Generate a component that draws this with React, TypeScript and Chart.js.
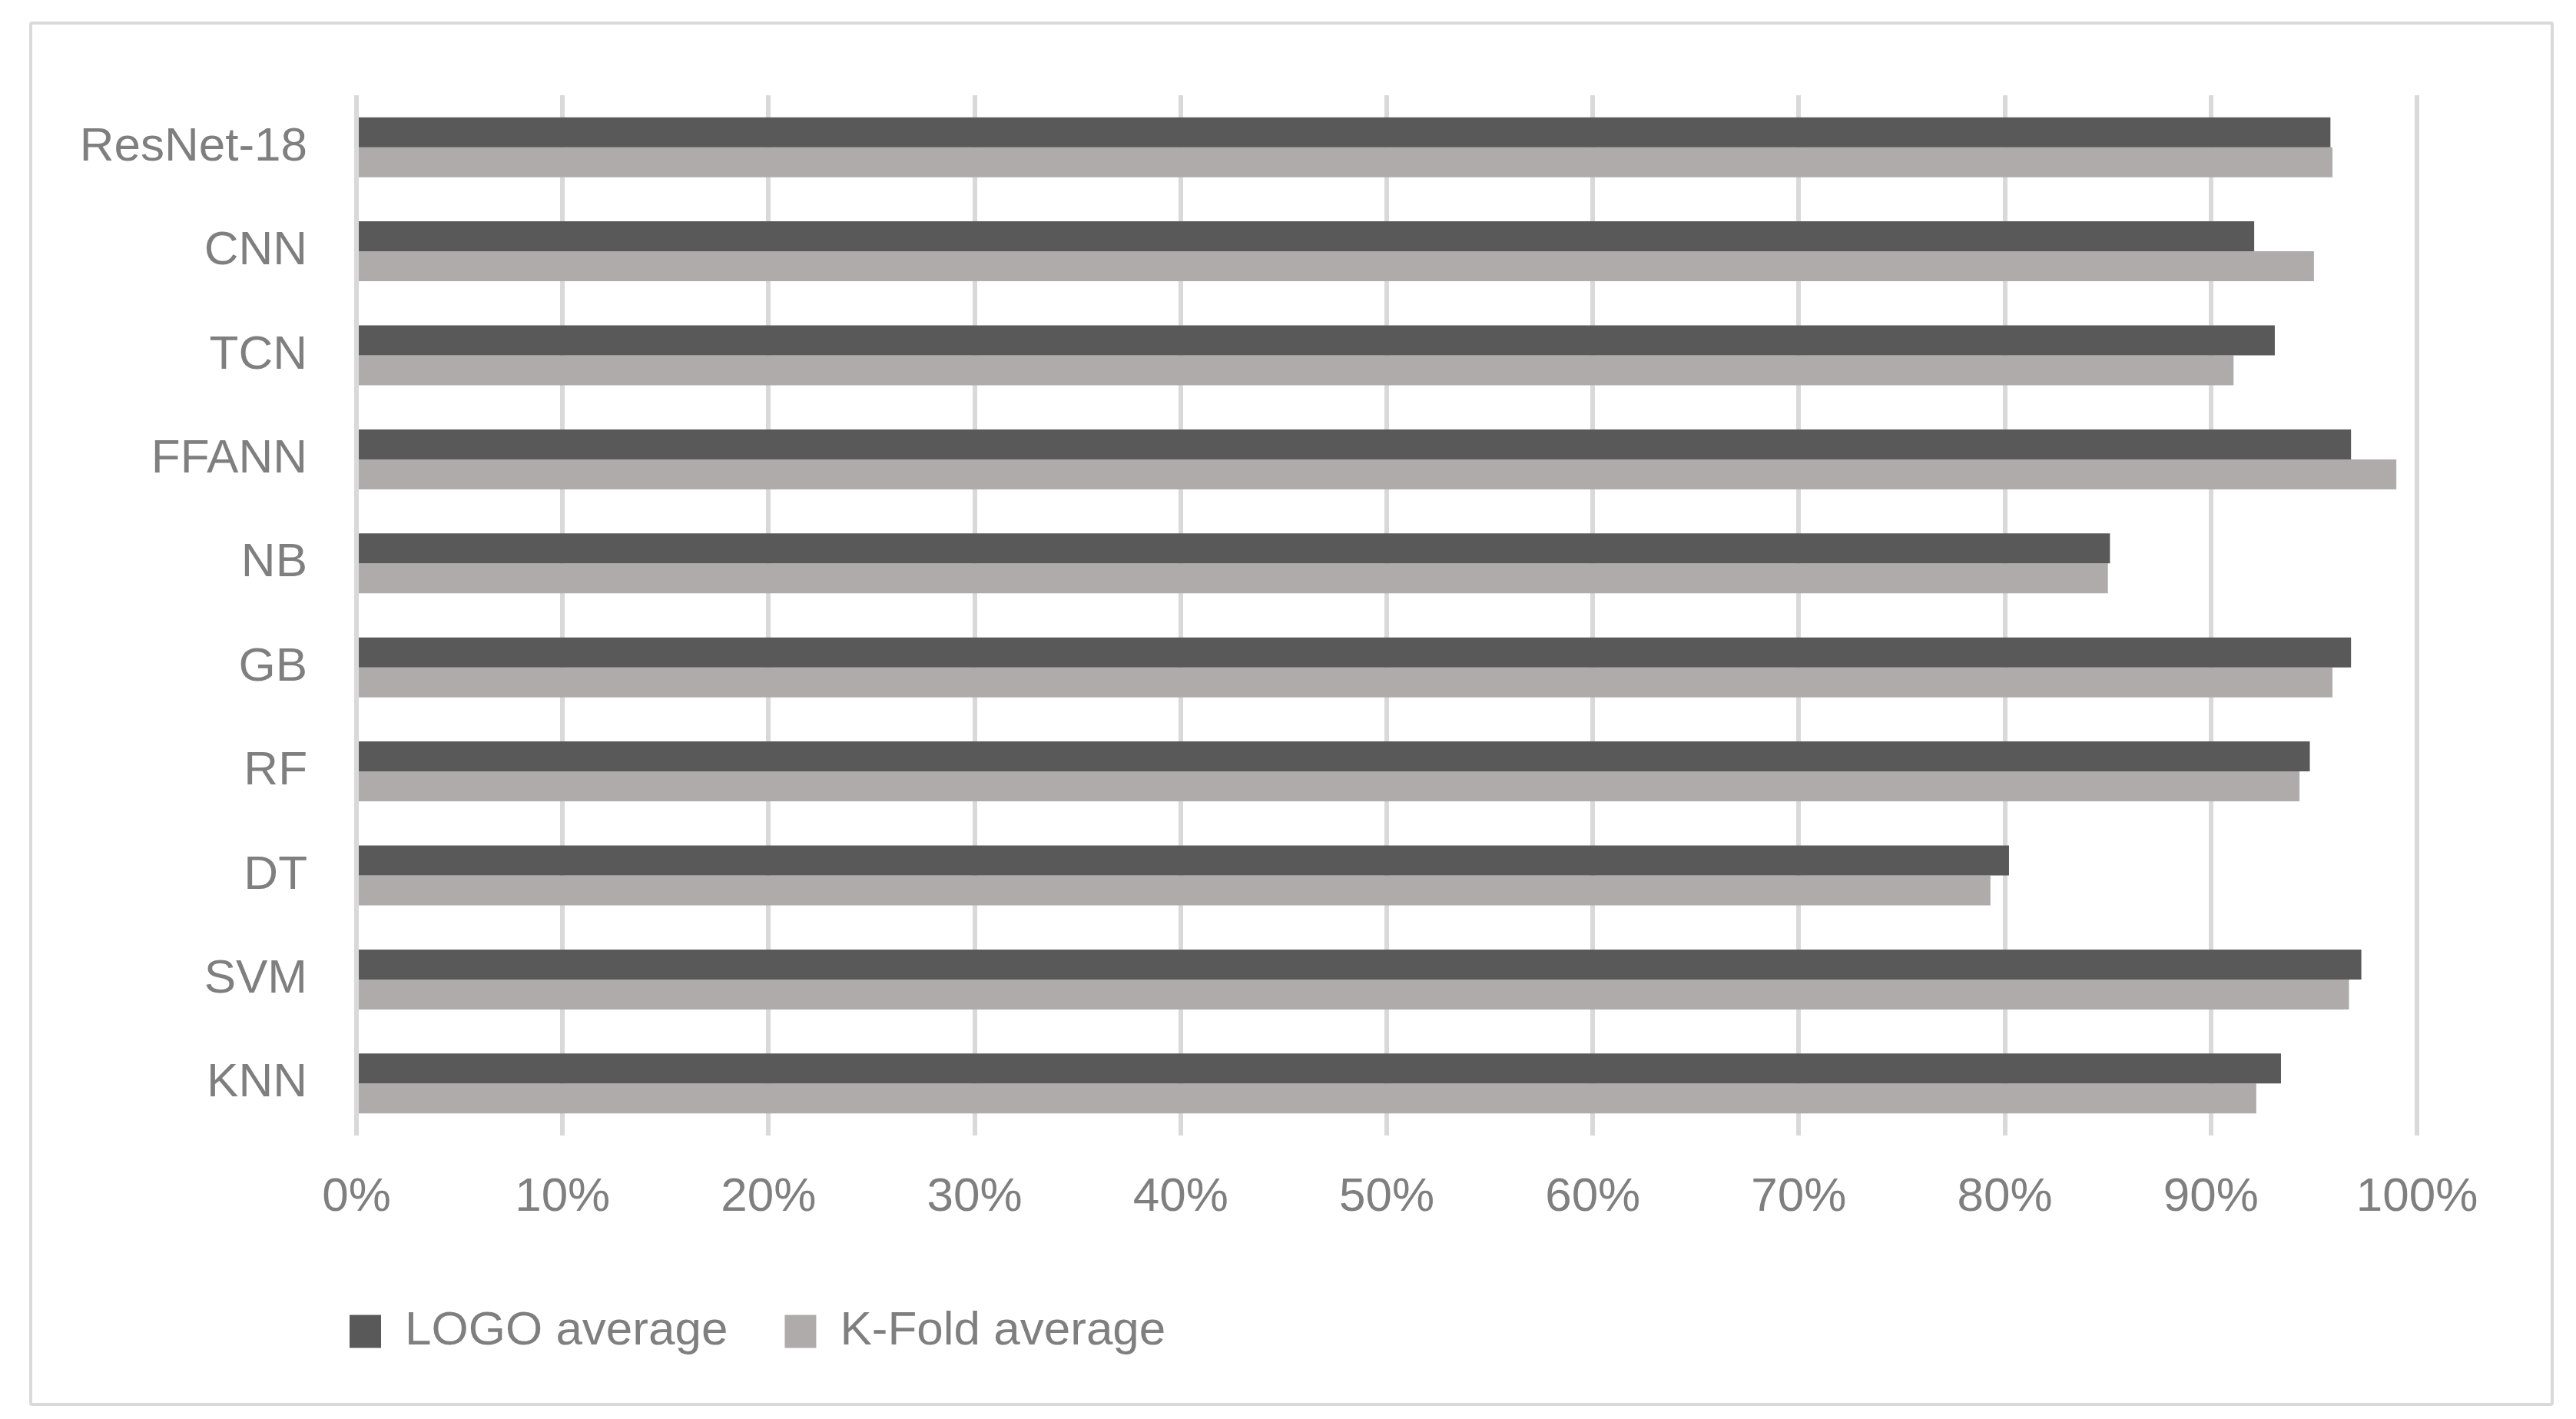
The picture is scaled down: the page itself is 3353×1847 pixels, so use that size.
import React, { useEffect, useRef } from 'react';
import { Chart, registerables } from 'chart.js';

Chart.register(...registerables);

const categories = ['ResNet-18', 'CNN', 'TCN', 'FFANN', 'NB', 'GB', 'RF', 'DT', 'SVM', 'KNN'];
const logoAverage = [95.8, 92.1, 93.1, 96.8, 85.1, 96.8, 94.8, 80.2, 97.3, 93.4];
const kFoldAverage = [95.9, 95.0, 91.1, 99.0, 85.0, 95.9, 94.3, 79.3, 96.7, 92.2];
const seriesNames = ['LOGO average', 'K-Fold average'];
const xMin = 0;
const xMax = 100;
const xStep = 10;

const FONT = "'Liberation Sans', Arial, sans-serif";
const FONT_SIZE = 62;
const TEXT = '#7f7f7f';
const GRID = '#d9d9d9';
const DARK = '#595959';
const LIGHT = '#afabab';

const W = 3278;
const H = 1794;
const LEGEND_PAD = 74;
const LEGEND_LEFT = 413 - LEGEND_PAD;

const legendShift = {
  id: 'legendShift',
  afterLayout(chart: any) {
    if (chart.legend) chart.legend.left = LEGEND_LEFT;
  },
  beforeDraw(chart: any) {
    if (chart.legend) chart.legend.left = LEGEND_LEFT;
  },
};

export default function App() {
  const ref = useRef<HTMLCanvasElement | null>(null);

  useEffect(() => {
    if (!ref.current) return;
    const chart = new Chart(ref.current, {
      type: 'bar',
      data: {
        labels: categories,
        datasets: [
          {
            label: seriesNames[0],
            data: logoAverage,
            backgroundColor: DARK,
            borderColor: DARK,
            borderWidth: 0,
            barPercentage: 1,
            categoryPercentage: 0.576,
          },
          {
            label: seriesNames[1],
            data: kFoldAverage,
            backgroundColor: LIGHT,
            borderColor: LIGHT,
            borderWidth: 0,
            barPercentage: 1,
            categoryPercentage: 0.576,
          },
        ],
      },
      options: {
        indexAxis: 'y',
        responsive: false,
        animation: false,
        layout: { padding: { left: 0, right: 174, top: 92, bottom: 52 } },
        scales: {
          x: {
            min: xMin,
            max: xMax,
            ticks: {
              stepSize: xStep,
              color: TEXT,
              font: { family: FONT, size: FONT_SIZE },
              padding: 44,
              callback: (v: any) => `${v}%`,
              maxRotation: 0,
            },
            grid: { color: GRID, lineWidth: 6, drawTicks: false },
            border: { display: false },
            afterFit: (s: any) => {
              s.height = 150;
            },
          },
          y: {
            ticks: {
              color: TEXT,
              font: { family: FONT, size: FONT_SIZE },
              padding: 64,
            },
            grid: { display: false, drawTicks: false },
            border: { display: false },
            afterFit: (s: any) => {
              s.width = 422;
              s.paddingTop = 0;
              s.paddingBottom = 0;
            },
          },
        },
        plugins: {
          legend: {
            position: 'bottom',
            align: 'start',
            labels: {
              color: TEXT,
              font: { family: FONT, size: FONT_SIZE },
              boxWidth: 41,
              boxHeight: 43,
              padding: LEGEND_PAD,
            },
          },
          tooltip: { enabled: false },
        },
      },
      plugins: [legendShift],
    } as any);
    return () => chart.destroy();
  }, []);

  return (
    <div
      style={{
        position: 'absolute',
        left: 38,
        top: 28,
        width: W,
        height: H,
        border: `4px solid ${GRID}`,
        borderRadius: 4,
        background: '#fff',
      }}
    >
      <canvas ref={ref} width={W} height={H} style={{ width: W, height: H, display: 'block' }} />
    </div>
  );
}
